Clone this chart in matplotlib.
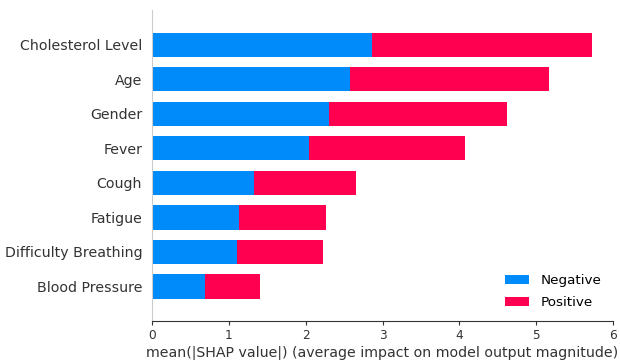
import matplotlib
matplotlib.use("Agg")
import matplotlib.pyplot as plt
import numpy as np

features = ["Cholesterol Level", "Age", "Gender", "Fever", "Cough", "Fatigue",
            "Difficulty Breathing", "Blood Pressure"]
negative = [2.86, 2.58, 2.31, 2.04, 1.33, 1.13, 1.11, 0.69]
positive = [2.86, 2.59, 2.31, 2.03, 1.32, 1.13, 1.12, 0.71]
series_names = ["Negative", "Positive"]
colors = ["#008bfb", "#ff0051"]

fig = plt.figure(figsize=(6.2, 3.6), dpi=100)
ax = fig.add_axes([0.245, 0.108, 0.744, 0.864])

n = len(features)
ypos = np.arange(n)[::-1]
ax.barh(ypos, negative, height=0.7, color=colors[0], label=series_names[0])
ax.barh(ypos, positive, left=negative, height=0.7, color=colors[1], label=series_names[1])

ax.set_yticks(ypos)
ax.set_yticklabels(features, fontsize=10.2, color="#333333")
ax.set_ylim(-1, n)
ax.set_xlim(0, 6.0)
ax.set_xticks(range(0, 7))
ax.tick_params(axis="x", labelsize=8.7, labelcolor="#333333", color="#333333",
               length=3, pad=3)
ax.tick_params(axis="y", length=0, pad=7)
ax.spines["top"].set_visible(False)
ax.spines["right"].set_visible(False)
ax.spines["left"].set_color("#cccccc")
ax.spines["bottom"].set_color("#333333")
ax.set_xlabel("mean(|SHAP value|) (average impact on model output magnitude)",
              fontsize=10.2, color="#333333", labelpad=2)
ax.legend(loc="lower right", frameon=False, fontsize=9.7, labelspacing=0.65,
          handlelength=1.8)

fig.savefig("out.png", dpi=100)
